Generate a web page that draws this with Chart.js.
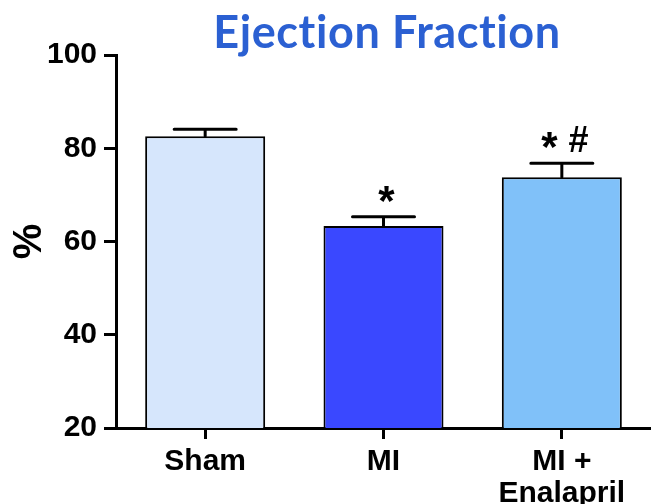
<!doctype html>
<html lang="en">
<head>
<meta charset="UTF-8">
<script src="https://cdn.jsdelivr.net/npm/chart.js@4.4.1/dist/chart.umd.min.js"></script>
<title>Ejection Fraction</title>
<style>
    * { margin: 0; padding: 0; box-sizing: border-box; }
    body { background: #fff; }
    #canvas { display: block; }
</style>
</head>
<body>
<canvas id="canvas" width="651" height="504"></canvas>
<script>
// groups on the x axis (second entry splits over two lines)
const groups = [["Sham"], ["MI"], ["MI +", "Enalapril"]];
// mean ejection fraction (%) and its error (SEM)
const meanEF = [82.6, 63.3, 73.8];
const semEF = [1.5, 2.0, 3.0];
// significance marks above the error bars
const marks = ["", "*", "* #"];
const barColors = ["#d6e6fc", "#3a48ff", "#80c1f9"];
const yTicks = [20, 40, 60, 80, 100];

const black = "#000";
const boldFont = "'Liberation Sans', Arial, sans-serif";

// the asterisk is set larger than the hash in the original
function markFont(ch) {
    return ch === "*" ? "bold 42px " + boldFont : "bold 36px " + boldFont;
}

// error bars + significance marks
const errorBars = {
    id: "errorBars",
    afterDatasetsDraw(chart) {
        const ctx = chart.ctx;
        const y = chart.scales.y;
        const bars = chart.getDatasetMeta(0).data;
        ctx.save();
        ctx.strokeStyle = black;
        ctx.lineWidth = 3;
        ctx.lineCap = "round";
        bars.forEach((bar, i) => {
            const top = y.getPixelForValue(meanEF[i] + semEF[i]);
            ctx.beginPath();
            ctx.moveTo(bar.x, bar.y);
            ctx.lineTo(bar.x, top);
            ctx.moveTo(bar.x - 31, top);
            ctx.lineTo(bar.x + 31, top);
            ctx.stroke();

            if (!marks[i]) return;
            const parts = marks[i].split(" ");
            const gap = 11;
            const widths = parts.map((p) => { ctx.font = markFont(p); return ctx.measureText(p).width; });
            const total = widths.reduce((a, b) => a + b, 0) + gap * (parts.length - 1);
            let x = bar.x + 3 - total / 2;
            ctx.fillStyle = black;
            ctx.textAlign = "left";
            ctx.textBaseline = "alphabetic";
            parts.forEach((p, k) => {
                ctx.font = markFont(p);
                ctx.fillText(p, x, p === "*" ? top - 2 : top - 11);
                x += widths[k] + gap;
            });
        });
        ctx.restore();
    }
};

// title, a bit right of centre like the original
const titlePlugin = {
    id: "titlePlugin",
    afterDraw(chart) {
        const ctx = chart.ctx;
        ctx.save();
        ctx.fillStyle = "#2b60d2";
        ctx.font = "bold 45px Lato, 'Open Sans', sans-serif";
        ctx.letterSpacing = "0.6px"; // also keeps the "ti" from joining
        ctx.textAlign = "center";
        ctx.textBaseline = "alphabetic";
        ctx.fillText("Ejection Fraction", 387, 48);
        ctx.restore();
    }
};

const ctx = document.getElementById("canvas").getContext("2d");
new Chart(ctx, {
    type: "bar",
    data: {
        labels: groups,
        datasets: [{
            data: meanEF,
            backgroundColor: barColors,
            borderColor: black,
            borderWidth: 2,
            borderSkipped: false,
            categoryPercentage: 1,
            barPercentage: 0.673
        }]
    },
    options: {
        responsive: false,
        animation: false,
        devicePixelRatio: 1,
        layout: { padding: { top: 55, right: 0, bottom: 0, left: 0 } },
        plugins: {
            legend: { display: false },
            tooltip: { enabled: false }
        },
        scales: {
            x: {
                afterFit: (s) => { s.height = 76; },
                border: { display: true, color: black, width: 3 },
                grid: {
                    display: true, drawOnChartArea: false, drawTicks: true,
                    tickLength: 11, tickWidth: 3, tickColor: black, offset: false
                },
                ticks: {
                    color: black,
                    padding: 7,
                    maxRotation: 0,
                    font: { family: boldFont, size: 30, weight: "bold", lineHeight: 1.05 }
                }
            },
            y: {
                min: 20,
                max: 100,
                afterFit: (s) => { s.width = 116; },
                afterBuildTicks: (s) => { s.ticks = yTicks.map((v) => ({ value: v })); },
                border: { display: true, color: black, width: 3 },
                grid: {
                    display: true, drawOnChartArea: false, drawTicks: true,
                    tickLength: 12, tickWidth: 3, tickColor: black
                },
                ticks: {
                    color: black,
                    padding: 7,
                    font: { family: boldFont, size: 30, weight: "bold" }
                },
                title: {
                    display: true,
                    text: "%",
                    color: black,
                    padding: { top: 6, bottom: 0 },
                    font: { family: boldFont, size: 40, weight: "bold" }
                }
            }
        }
    },
    plugins: [errorBars, titlePlugin]
});
</script>
</body>
</html>
